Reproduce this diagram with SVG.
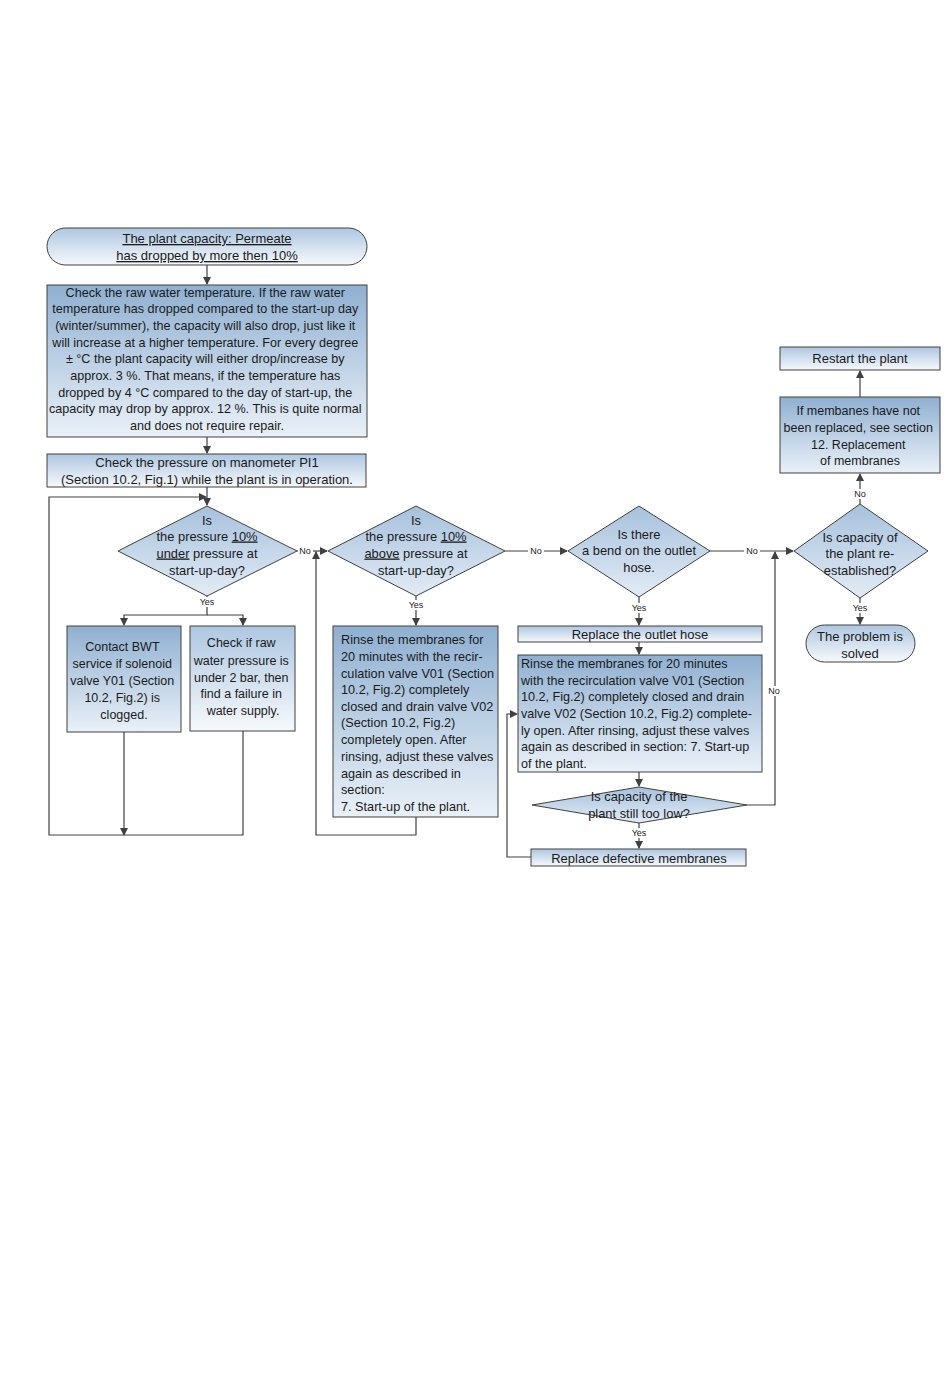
<svg xmlns="http://www.w3.org/2000/svg" width="950" height="1387" viewBox="0 0 950 1387">
<defs>
<linearGradient id="gDark" x1="0" y1="0" x2="0" y2="1">
<stop offset="0" stop-color="#8fb0d1"/>
<stop offset="1" stop-color="#eaf1f8"/>
</linearGradient>
<linearGradient id="gLight" x1="0" y1="0" x2="0" y2="1">
<stop offset="0" stop-color="#aec7e1"/>
<stop offset="1" stop-color="#f6f9fc"/>
</linearGradient>
<linearGradient id="gDia" x1="0" y1="0" x2="0" y2="1">
<stop offset="0" stop-color="#a6c1dd"/>
<stop offset="1" stop-color="#e3ecf5"/>
</linearGradient>
<marker id="arr" markerWidth="8" markerHeight="8" refX="7" refY="4" orient="auto" markerUnits="userSpaceOnUse">
<path d="M0,0 L8,4 L0,8 Z" fill="#404040"/>
</marker>
</defs>
<style>
.box{stroke:#404040;stroke-width:1}
.d{fill:url(#gDark)}
.l{fill:url(#gLight)}
.dia{fill:url(#gDia);stroke:#404040;stroke-width:1}
.t{font-family:"Liberation Sans",Arial,sans-serif;font-size:13px;fill:#1a1a1a}
.s{font-family:"Liberation Sans",Arial,sans-serif;font-size:12.9px;fill:#1a1a1a}
.r1{font-size:12.7px}
.m{font-size:12.5px}
.c{text-anchor:middle}
.lab{font-family:"Liberation Sans",Arial,sans-serif;font-size:9px;fill:#1a1a1a;text-anchor:middle}
.con{fill:none;stroke:#404040;stroke-width:1.2}
.u{text-decoration:underline}
</style>
<rect width="950" height="1387" fill="#ffffff"/>

<g id="connectors">
<path class="con" d="M207,265 V284" marker-end="url(#arr)"/>
<path class="con" d="M207,437 V453" marker-end="url(#arr)"/>
<path class="con" d="M207,487 V505" marker-end="url(#arr)"/>
<path class="con" d="M243,731 V835 H49 V497 H206" marker-end="url(#arr)"/>
<path class="con" d="M207,596 V615 H124 V625" marker-end="url(#arr)"/>
<path class="con" d="M207,615 H243 V625" marker-end="url(#arr)"/>
<path class="con" d="M124,732 V835" marker-end="url(#arr)"/>
<path class="con" d="M297,551 H327" marker-end="url(#arr)"/>
<path class="con" d="M416,817 V835 H316 V552" marker-end="url(#arr)"/>
<path class="con" d="M416,596 V625" marker-end="url(#arr)"/>
<path class="con" d="M505,551 H567" marker-end="url(#arr)"/>
<path class="con" d="M639,597 V625" marker-end="url(#arr)"/>
<path class="con" d="M639,642 V654" marker-end="url(#arr)"/>
<path class="con" d="M639,772 V786" marker-end="url(#arr)"/>
<path class="con" d="M639,823 V848" marker-end="url(#arr)"/>
<path class="con" d="M531,857 H507 V714 H517" marker-end="url(#arr)"/>
<path class="con" d="M747,805 H775 V552" marker-end="url(#arr)"/>
<path class="con" d="M710,551 H793" marker-end="url(#arr)"/>
<path class="con" d="M860,598 V624" marker-end="url(#arr)"/>
<path class="con" d="M860,504 V474" marker-end="url(#arr)"/>
<path class="con" d="M860,397 V371" marker-end="url(#arr)"/>
<rect x="197" y="597" width="20" height="10" fill="#ffffff"/>
<text class="lab" x="207" y="605">Yes</text>
<rect x="298" y="546" width="15" height="10" fill="#ffffff"/>
<text class="lab" x="305" y="554">No</text>
<rect x="406" y="600" width="20" height="10" fill="#ffffff"/>
<text class="lab" x="416" y="608">Yes</text>
<rect x="528" y="546" width="16" height="10" fill="#ffffff"/>
<text class="lab" x="536" y="554">No</text>
<rect x="629" y="603" width="20" height="10" fill="#ffffff"/>
<text class="lab" x="639" y="611">Yes</text>
<rect x="629" y="828" width="20" height="10" fill="#ffffff"/>
<text class="lab" x="639" y="836">Yes</text>
<rect x="766" y="686" width="16" height="10" fill="#ffffff"/>
<text class="lab" x="774" y="694">No</text>
<rect x="744" y="546" width="16" height="10" fill="#ffffff"/>
<text class="lab" x="752" y="554">No</text>
<rect x="850" y="603" width="20" height="10" fill="#ffffff"/>
<text class="lab" x="860" y="611">Yes</text>
<rect x="852" y="489" width="16" height="10" fill="#ffffff"/>
<text class="lab" x="860" y="497">No</text>
</g>

<g id="start">
<rect class="box l" x="47" y="228" width="320" height="37" rx="18.5" ry="18.5"/>
<text class="t c" x="207" y="243"><tspan class="u">The plant capacity: Permeate</tspan></text>
<text class="t c" x="207" y="260"><tspan class="u">has dropped by more then 10%</tspan></text>
</g>

<g id="check-temp">
<rect class="box d" x="47" y="285" width="320" height="152"/>
<text class="t c" x="207" style="font-size:12.6px">
<tspan x="207" y="296.5">Check the raw water temperature. If the raw water</tspan>
<tspan x="207" y="313.2">temperature has dropped compared to the start-up day</tspan>
<tspan x="207" y="329.9">(winter/summer), the capacity will also drop, just like it</tspan>
<tspan x="207" y="346.6">will increase at a higher temperature. For every degree</tspan>
<tspan x="207" y="363.3">± °C the plant capacity will either drop/increase by</tspan>
<tspan x="207" y="380">approx. 3 %. That means, if the temperature has</tspan>
<tspan x="207" y="396.7">dropped by 4 °C compared to the day of start-up, the</tspan>
<tspan x="207" y="413.4">capacity may drop by approx. 12 %. This is quite normal</tspan>
<tspan x="207" y="430.1">and does not require repair.</tspan>
</text>
</g>

<g id="check-pressure">
<rect class="box l" x="47" y="454" width="319" height="33"/>
<text class="t c" x="207" y="466.5">Check the pressure on manometer PI1</text>
<text class="t c" x="207" y="483.5">(Section 10.2, Fig.1) while the plant is in operation.</text>
</g>

<g id="d-under">
<polygon class="dia" points="207,506 297,551 207,596 118,551"/>
<text class="s c" x="207" y="524.5">Is</text>
<text class="s c" x="207" y="540.5">the pressure <tspan class="u">10%</tspan></text>
<text class="s c" x="207" y="557.5"><tspan class="u">under</tspan> pressure  at</text>
<text class="s c" x="207" y="574.5">start-up-day?</text>
</g>

<g id="contact-bwt">
<rect class="box d" x="67" y="626" width="114" height="106"/>
<text class="t m c" x="124">
<tspan x="124" y="650.5">Contact BWT</tspan>
<tspan x="124" y="667.5">service if solenoid</tspan>
<tspan x="124" y="684.5">valve Y01 (Section</tspan>
<tspan x="124" y="701.5">10.2, Fig.2) is</tspan>
<tspan x="124" y="718.5">clogged.</tspan>
</text>
</g>

<g id="check-raw">
<rect class="box l" x="190" y="626" width="105" height="105"/>
<text class="t m c" x="243">
<tspan x="243" y="646.5">Check if raw</tspan>
<tspan x="243" y="664.5">water pressure is</tspan>
<tspan x="243" y="681.5">under 2 bar, then</tspan>
<tspan x="243" y="697.5">find a failure in</tspan>
<tspan x="243" y="714.5">water supply.</tspan>
</text>
</g>

<g id="d-above">
<polygon class="dia" points="416,506 505,551 416,596 328,551"/>
<text class="s c" x="416" y="524.5">Is</text>
<text class="s c" x="416" y="540.5">the pressure <tspan class="u">10%</tspan></text>
<text class="s c" x="416" y="557.5"><tspan class="u">above</tspan> pressure  at</text>
<text class="s c" x="416" y="574.5">start-up-day?</text>
</g>

<g id="rinse-1">
<rect class="box d" x="333" y="626" width="165" height="191"/>
<text class="t r1" x="341">
<tspan x="341" y="643.5">Rinse the membranes for</tspan>
<tspan x="341" y="660.5">20 minutes with the recir-</tspan>
<tspan x="341" y="677.5">culation valve V01 (Section</tspan>
<tspan x="341" y="693.5">10.2, Fig.2) completely</tspan>
<tspan x="341" y="710.5">closed and drain valve V02</tspan>
<tspan x="341" y="726.5">(Section 10.2, Fig.2)</tspan>
<tspan x="341" y="743.5">completely open. After</tspan>
<tspan x="341" y="760.5">rinsing, adjust these valves</tspan>
<tspan x="341" y="777.5">again as described in</tspan>
<tspan x="341" y="793.5">section:</tspan>
<tspan x="341" y="810.5">7. Start-up of the plant.</tspan>
</text>
</g>

<g id="d-bend">
<polygon class="dia" points="639,506 710,551 639,597 568,551"/>
<text class="s c" x="639" y="538.5">Is  there</text>
<text class="s c" x="639" y="554.5">a bend on the outlet</text>
<text class="s c" x="639" y="571.5">hose.</text>
</g>

<g id="replace-hose">
<rect class="box l" x="518" y="626" width="244" height="16"/>
<text class="t c" x="640" y="638.5">Replace the outlet hose</text>
</g>

<g id="rinse-2">
<rect class="box d" x="518" y="655" width="244" height="117"/>
<text class="s" x="521" style="font-size:12.6px">
<tspan x="521" y="667.5">Rinse the membranes for 20 minutes</tspan>
<tspan x="521" y="684.5">with the recirculation valve V01 (Section</tspan>
<tspan x="521" y="700.5">10.2, Fig.2) completely closed and drain</tspan>
<tspan x="521" y="717.5">valve V02 (Section 10.2, Fig.2) complete-</tspan>
<tspan x="521" y="734.5">ly open. After rinsing, adjust these valves</tspan>
<tspan x="521" y="750.5">again as described in section: 7. Start-up</tspan>
<tspan x="521" y="767.5">of the plant.</tspan>
</text>
</g>

<g id="d-low">
<polygon class="dia" points="639,787 747,805 639,823 532,805"/>
<text class="s c" x="639" y="800.5">Is capacity of the</text>
<text class="s c" x="639" y="817.5">plant still too low?</text>
</g>

<g id="replace-membranes">
<rect class="box l" x="531" y="849" width="215" height="17"/>
<text class="t c" x="639" y="862.5">Replace defective membranes</text>
</g>

<g id="d-reestablished">
<polygon class="dia" points="860,504 928,551 860,598 794,551"/>
<text class="s c" x="860" y="541.5">Is capacity of</text>
<text class="s c" x="860" y="557.5">the plant re-</text>
<text class="s c" x="860" y="574.5">established?</text>
</g>

<g id="solved">
<rect class="box l" x="806" y="625" width="109" height="37" rx="18.5" ry="18.5"/>
<text class="t c" x="860" y="640.5">The problem is</text>
<text class="t c" x="860" y="657.5">solved</text>
</g>

<g id="membranes-not-replaced">
<rect class="box d" x="780" y="397" width="160" height="76"/>
<text class="t c" x="860" style="font-size:12.5px">
<tspan x="860" y="414.5">If membanes have not</tspan>
<tspan x="860" y="431.5">been replaced, see section</tspan>
<tspan x="860" y="448.5">12. Replacement</tspan>
<tspan x="860" y="464.5">of membranes</tspan>
</text>
</g>

<g id="restart">
<rect class="box l" x="780" y="347" width="160" height="23"/>
<text class="t c" x="860" y="362.5">Restart the plant</text>
</g>
</svg>
